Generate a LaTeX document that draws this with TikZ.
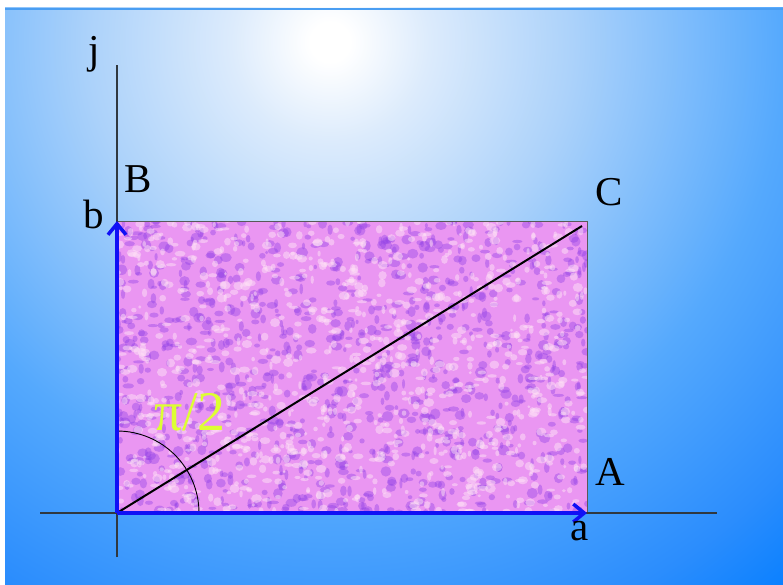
\documentclass[tikz,border=0pt]{standalone}
\usepackage{fontspec}
\setmainfont{Liberation Serif}
\usepackage{xcolor}
\usetikzlibrary{arrows.meta, positioning}

\definecolor{skyA}{HTML}{DCEBFC}
\definecolor{skyB}{HTML}{ACD2FA}
\definecolor{skyC}{HTML}{55A9FD}
\definecolor{skyD}{HTML}{2B8DFD}
\definecolor{skyE}{HTML}{0A80FF}
\definecolor{skyedge}{HTML}{4A9EF2}
\definecolor{rectbase}{HTML}{EA96F2}
\definecolor{rectdark}{HTML}{9040E6}
\definecolor{rectlight}{HTML}{FFE2F6}
\definecolor{vecblue}{HTML}{1010F5}
\definecolor{angcol}{HTML}{DDFF33}
\definecolor{axiscol}{HTML}{30383F}

\pgfdeclareradialshading{skyglow}{\pgfpoint{0bp}{0bp}}{%
  color(0bp)=(white); color(0.7bp)=(white); color(3.5bp)=(skyA);
  color(8.5bp)=(skyB); color(16bp)=(skyC); color(22bp)=(skyD);
  color(25bp)=(skyE); color(30bp)=(skyE)}

\begin{document}
\begin{tikzpicture}[x=1pt, y=-1pt,
  lbl/.style={font=\fontsize{41}{41}\selectfont, anchor=base, inner sep=0pt},
  anglbl/.style={font=\fontsize{56}{56}\selectfont, anchor=base, inner sep=0pt, text=angcol},
  axis/.style={draw=axiscol, line width=1.3pt},
  vec/.style={draw=vecblue, line width=4.5pt,
              -{Straight Barb[length=11pt, width=18pt, line width=3.5pt]}},
  diag/.style={draw=black, line width=2pt}
]
\useasboundingbox (0,0) rectangle (783,585);

% background
\begin{scope}
  \clip (5,8) rectangle (783,585);
  \shade[shading=skyglow] (330,42) circle[radius=710];
\end{scope}
\fill[skyedge] (5,8) rectangle (783,10);

% points
\coordinate (O) at (117,513);
\coordinate (Apt) at (587,513);
\coordinate (Bpt) at (117,221);
\coordinate (Cpt) at (587,221);
\coordinate (Cend) at (582,226);
\coordinate (xl) at (40,513);
\coordinate (xr) at (717,513);
\coordinate (yt) at (117,65);
\coordinate (yb) at (117,557);

% textured rectangle
\fill[rectbase] (O) rectangle (Cpt);
\begin{scope}
  \clip (O) rectangle (Cpt);
  \pgfmathsetseed{42}
  \foreach \i in {1,...,1000}
    \fill[rectdark, opacity=0.4] ({117+470*rnd},{221+292*rnd})
      ellipse[x radius={1.5+4.5*rnd}, y radius={1.5+4*rnd}];
  \foreach \i in {1,...,1000}
    \fill[rectlight, opacity=0.5] ({117+470*rnd},{221+292*rnd})
      ellipse[x radius={1.5+4*rnd}, y radius={1.5+3*rnd}];
\end{scope}
\draw[gray!70!black, line width=0.8pt] (O) rectangle (Cpt);

% axes
\draw[axis] (xl) -- (xr);
\draw[axis] (yb) -- (yt);

% diagonal and angle
\draw[diag] (O) -- (Cend);
\draw[black, line width=0.9pt] ([xshift=82pt]O) arc[start angle=0, end angle=-90, radius=82];

% vectors
\draw[vec] (O) -- (Bpt);
\draw[vec] (O) -- (Apt);

% labels
\node[lbl] (jlab) at (94,64) {j};
\node[lbl] (Blab) at (138,193) {B};
\node[lbl] (blab) at (94,228) {b};
\node[lbl] (Clab) at (609,205) {C};
\node[lbl] (Alab) at (610,485) {A};
\node[lbl] (alab) at (580,540) {a};
\node[anglbl] (pilab) at (190,430) {π/2};
\end{tikzpicture}
\end{document}
